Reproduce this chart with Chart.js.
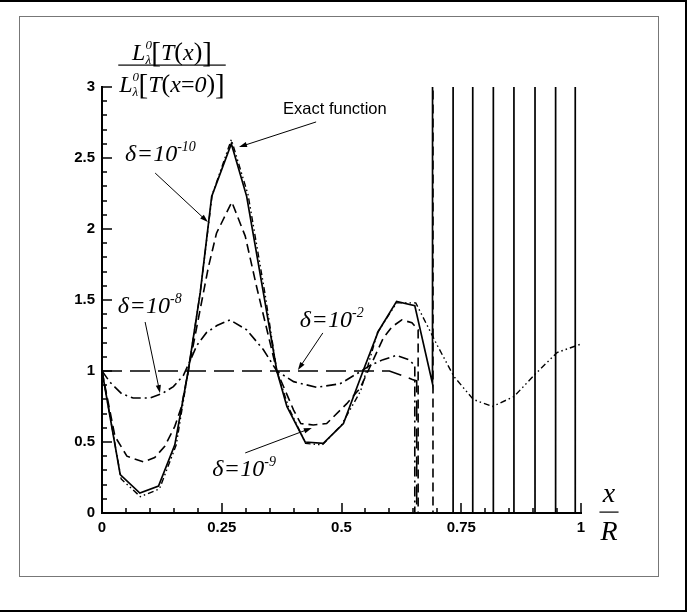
<!DOCTYPE html>
<html>
<head>
<meta charset="utf-8">
<script src="https://cdn.jsdelivr.net/npm/chart.js@4.4.1/dist/chart.umd.min.js"></script>
<style>
  body { margin: 0; background: #fff; }
  #page { position: relative; width: 697px; height: 612px; overflow: hidden; background: #fff; }
  #outer { position: absolute; left: -4px; top: 0; width: 691px; height: 612px; box-sizing: border-box; border: 2px solid #000; }
  #inner { position: absolute; left: 19px; top: 16px; width: 640px; height: 561px; box-sizing: border-box; border: 1px solid #777; }
  #chart { position: absolute; left: 0; top: 0; }
</style>
</head>
<body>
<div id="page">
  <div id="outer"></div>
  <div id="inner"></div>
  <canvas id="chart" width="697" height="612"></canvas>
</div>
<script>
// exact function
const exactX = [0, 0.04, 0.08, 0.12, 0.155, 0.18, 0.205, 0.23, 0.27, 0.305, 0.34, 0.365, 0.39, 0.425, 0.46, 0.50, 0.54, 0.575, 0.615, 0.655, 0.70, 0.735, 0.775, 0.815, 0.86, 0.905, 0.95, 1.0];
const exactY = [1.0, 0.24, 0.115, 0.17, 0.48, 1.0, 1.55, 2.24, 2.63, 2.24, 1.55, 1.0, 0.74, 0.49, 0.48, 0.62, 0.86, 1.27, 1.48, 1.48, 1.18, 0.96, 0.80, 0.75, 0.82, 0.98, 1.13, 1.19];

// delta = 1e-10, blows up past x ~ 0.69 (+-50 = off scale)
const d10X = [0, 0.038, 0.079, 0.118, 0.152, 0.18, 0.205, 0.229, 0.27, 0.302, 0.337, 0.365, 0.386, 0.424, 0.462, 0.504, 0.545, 0.577, 0.615, 0.653, 0.690,
  0.692, 0.733, 0.733, 0.774, 0.774, 0.817, 0.817, 0.860, 0.860, 0.904, 0.904, 0.947, 0.947, 0.988, 0.988, 1.0];
const d10Y = [1.0, 0.27, 0.14, 0.19, 0.48, 1.0, 1.55, 2.23, 2.60, 2.23, 1.55, 1.0, 0.75, 0.50, 0.49, 0.63, 1.0, 1.28, 1.49, 1.46, 0.91,
  50, 50, -50, -50, 50, 50, -50, -50, 50, 50, -50, -50, 50, 50, -50, -50];

// delta = 1e-9
const d9X = [0, 0.027, 0.052, 0.086, 0.11, 0.131, 0.152, 0.166, 0.18, 0.222, 0.239, 0.271, 0.299, 0.323, 0.365, 0.40, 0.415, 0.441, 0.469, 0.511, 0.539, 0.587, 0.605, 0.626, 0.647, 0.660, 0.660, 0.691, 0.691, 1.0];
const d9Y = [1.0, 0.54, 0.40, 0.36, 0.39, 0.47, 0.61, 0.75, 1.0, 1.73, 1.97, 2.19, 1.95, 1.59, 1.0, 0.725, 0.63, 0.62, 0.63, 0.77, 0.88, 1.23, 1.31, 1.36, 1.34, 1.29, -50, -50, 50, 50];

// delta = 1e-8
const d8X = [0, 0.017, 0.041, 0.065, 0.10, 0.125, 0.149, 0.17, 0.185, 0.198, 0.218, 0.24, 0.267, 0.302, 0.337, 0.365, 0.40, 0.448, 0.497, 0.539, 0.56, 0.587, 0.615, 0.64, 0.653, 0.653];
const d8Y = [1.0, 0.92, 0.84, 0.81, 0.81, 0.84, 0.89, 0.97, 1.08, 1.18, 1.27, 1.32, 1.36, 1.29, 1.15, 1.0, 0.925, 0.885, 0.91, 0.995, 1.04, 1.08, 1.11, 1.08, 1.04, -50];

// delta = 1e-2
const d2X = [0, 0.60, 0.625, 0.648, 0.657, 0.657];
const d2Y = [1.0, 1.0, 0.97, 0.94, 0.93, -50];

const xTicks = [0, 0.25, 0.5, 0.75, 1];
const yTicks = [0, 0.5, 1, 1.5, 2, 2.5, 3];

const serif = '"Liberation Serif", "Times New Roman", serif';
const sans = '"Liberation Sans", Arial, sans-serif';

const zip = (xs, ys) => xs.map((x, i) => ({ x: x, y: ys[i] }));

function lineSet(label, xs, ys, dash, width) {
    return {
        label: label,
        data: zip(xs, ys),
        borderColor: '#000',
        borderWidth: width,
        borderDash: dash,
        pointRadius: 0,
        tension: 0,
        fill: false,
        clip: 0
    };
}

// labels and arrows, anchored in axis units
const notes = [
    { text: 'Exact function', x: 0.378, y: 2.81, from: [0.447, 2.754], to: [0.286, 2.577] },
    { exp: '-10', x: 0.048, y: 2.479, from: [0.111, 2.394], to: [0.221, 2.049] },
    { exp: '-8', x: 0.033, y: 1.408, from: [0.090, 1.345], to: [0.121, 0.845] },
    { exp: '-2', x: 0.413, y: 1.31, from: [0.461, 1.268], to: [0.409, 1.007] },
    { exp: '-9', x: 0.230, y: 0.261, from: [0.299, 0.423], to: [0.438, 0.599] }
];

// draws a list of [text, font, dy, advance] pieces, returns width
function pieces(ctx, parts, x, y, draw) {
    let cx = x;
    for (const [t, font, dy = 0, adv = true] of parts) {
        ctx.font = font;
        if (draw) ctx.fillText(t, cx, y + dy);
        if (adv) cx += ctx.measureText(t).width;
    }
    return cx - x;
}

function arrow(ctx, x1, y1, x2, y2) {
    const a = Math.atan2(y2 - y1, x2 - x1);
    ctx.beginPath();
    ctx.moveTo(x1, y1);
    ctx.lineTo(x2 - 6 * Math.cos(a), y2 - 6 * Math.sin(a));
    ctx.stroke();
    ctx.beginPath();
    ctx.moveTo(x2, y2);
    ctx.lineTo(x2 - 8 * Math.cos(a) + 2.6 * Math.sin(a), y2 - 8 * Math.sin(a) - 2.6 * Math.cos(a));
    ctx.lineTo(x2 - 8 * Math.cos(a) - 2.6 * Math.sin(a), y2 - 8 * Math.sin(a) + 2.6 * Math.cos(a));
    ctx.closePath();
    ctx.fill();
}

function fraction(ctx, top, bottom, cx, barY, up, down) {
    const wt = pieces(ctx, top, 0, 0, false);
    const wb = pieces(ctx, bottom, 0, 0, false);
    const w = Math.max(wt, wb) + 2;
    pieces(ctx, top, cx - wt / 2, barY - up, true);
    pieces(ctx, bottom, cx - wb / 2, barY + down, true);
    ctx.fillRect(cx - w / 2, barY - 0.5, w, 1.2);
}

// inward ticks, major and minor
const insideTicks = {
    id: 'insideTicks',
    afterDraw(chart) {
        const { ctx, scales: { x, y } } = chart;
        ctx.save();
        ctx.strokeStyle = '#000';
        ctx.lineWidth = 1.5;
        ctx.beginPath();
        for (let i = 0; i <= 20; i++) {
            const px = Math.round(x.getPixelForValue(i * 0.05));
            const len = i % 5 === 0 ? 10 : 5;
            ctx.moveTo(px, y.bottom);
            ctx.lineTo(px, y.bottom - len);
        }
        for (let i = 0; i <= 30; i++) {
            const py = Math.round(y.getPixelForValue(i * 0.1));
            const len = i % 5 === 0 ? 10 : 5;
            ctx.moveTo(x.left, py);
            ctx.lineTo(x.left + len, py);
        }
        ctx.stroke();
        ctx.restore();
    }
};

const annotations = {
    id: 'annotations',
    afterDraw(chart) {
        const { ctx, scales: { x, y }, chartArea } = chart;
        ctx.save();
        ctx.fillStyle = '#000';
        ctx.strokeStyle = '#000';
        ctx.lineWidth = 1;
        ctx.textBaseline = 'alphabetic';
        ctx.textAlign = 'left';

        notes.forEach(n => {
            const px = x.getPixelForValue(n.x);
            const py = y.getPixelForValue(n.y);
            if (n.text) {
                ctx.font = '16.5px ' + sans;
                ctx.fillText(n.text, px, py);
            } else {
                pieces(ctx, [
                    ['δ', 'italic 24px ' + serif],
                    [' ', '8px ' + serif],
                    ['=', '24px ' + serif],
                    [' ', '6px ' + serif],
                    ['10', 'italic 24px ' + serif],
                    [n.exp, 'italic 14px ' + serif, -10]
                ], px, py, true);
            }
            arrow(ctx, x.getPixelForValue(n.from[0]), y.getPixelForValue(n.from[1]),
                x.getPixelForValue(n.to[0]), y.getPixelForValue(n.to[1]));
        });

        // y axis title
        const it = 'italic 24px ' + serif;
        const sm = 'italic 13px ' + serif;
        const br = '29px ' + serif;
        const pa = '26px ' + serif;
        const top = [['L', it], ['0', sm, -11, false], ['λ', sm, 4], [']', '1px ' + serif], ['[', br, 2], ['T', it], ['(', pa], ['x', it], [')', pa], [']', br, 2]];
        const bottom = [['L', it], ['0', sm, -11, false], ['λ', sm, 4], [']', '1px ' + serif], ['[', br, 2], ['T', it], ['(', pa], ['x', it],
            ['=', '24px ' + serif], ['0', it], [')', pa], [']', br, 2]];
        fraction(ctx, top, bottom, chartArea.left + 70, chartArea.top - 22, 5, 27);

        // x axis title
        const xr = 'italic 28px ' + serif;
        fraction(ctx, [['x', xr]], [['R', xr]], chartArea.right + 28, chartArea.bottom - 1, 10, 28);
        ctx.restore();
    }
};

const tickFont = { family: sans, size: 15, weight: 'bold' };

new Chart('chart', {
    type: 'line',
    data: {
        datasets: [
            lineSet('Exact function', exactX, exactY, [6, 3, 1.5, 3, 1.5, 3], 1.4),
            lineSet('δ=10^-10', d10X, d10Y, [], 1.7),
            lineSet('δ=10^-9', d9X, d9Y, [9, 5], 1.6),
            lineSet('δ=10^-8', d8X, d8Y, [10, 4, 2, 4], 1.6),
            lineSet('δ=10^-2', d2X, d2Y, [20, 8], 1.6)
        ]
    },
    options: {
        responsive: false,
        animation: false,
        layout: { padding: { left: 62, top: 87, right: 116, bottom: 59 } },
        plugins: { legend: { display: false }, tooltip: { enabled: false } },
        scales: {
            x: {
                type: 'linear', min: 0, max: 1,
                afterBuildTicks: s => { s.ticks = xTicks.map(v => ({ value: v })); },
                afterFit: s => { s.height = 40; },
                grid: { display: false, drawTicks: false },
                border: { display: true, color: '#000', width: 2 },
                ticks: { color: '#000', font: tickFont, padding: 6, maxRotation: 0, autoSkip: false, callback: v => String(v) }
            },
            y: {
                type: 'linear', min: 0, max: 3,
                afterBuildTicks: s => { s.ticks = yTicks.map(v => ({ value: v })); },
                afterFit: s => { s.width = 40; },
                grid: { display: false, drawTicks: false },
                border: { display: true, color: '#000', width: 2 },
                ticks: { color: '#000', font: tickFont, padding: 7, autoSkip: false, callback: v => String(v) }
            }
        }
    },
    plugins: [insideTicks, annotations]
});
</script>
</body>
</html>
